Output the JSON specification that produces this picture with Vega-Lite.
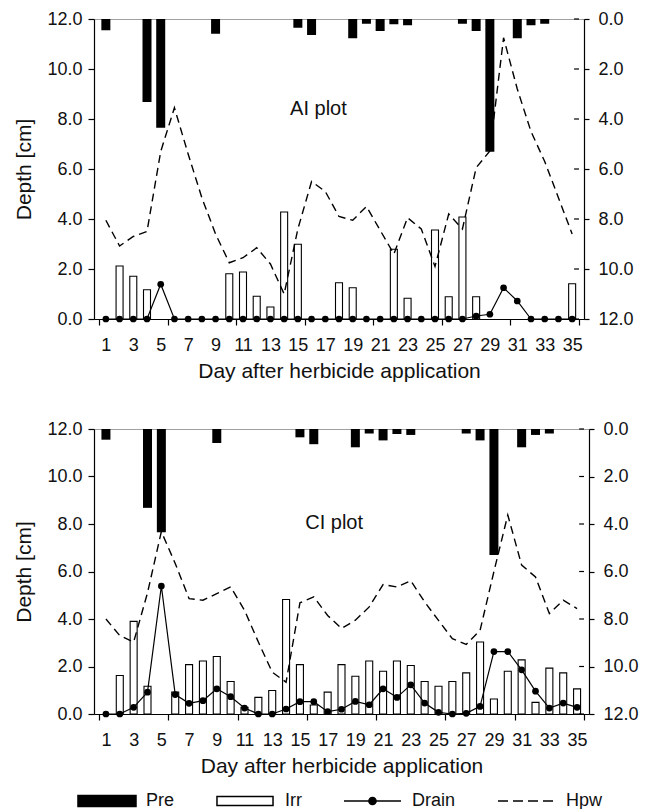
{
  "$schema": "https://vega.github.io/schema/vega-lite/v6.json",
  "padding": {"left": 13, "top": 9, "right": 5, "bottom": 0},
  "background": "white",
  "config": {
    "font": "Liberation Sans",
    "view": {"stroke": "#a0a0a0", "strokeWidth": 1},
    "axis": {"labelFont": "Liberation Sans", "titleFont": "Liberation Sans", "labelColor": "#111", "titleColor": "#111", "domainColor": "#000", "tickColor": "#000", "labelFontSize": 18, "titleFontSize": 21, "titleFontWeight": "normal", "grid": false, "domainWidth": 1.2, "tickWidth": 1.2, "labelOverlap": false},
    "axisX": {"labelOverlap": false, "labelFlush": false},
    "concat": {"spacing": 37}
  },
  "datasets": {
    "ai": [
      {"day": 1, "pre": 0.45, "irr": null, "drain": 0, "hpw": 3.95},
      {"day": 2, "pre": null, "irr": 2.12, "drain": 0, "hpw": 2.92},
      {"day": 3, "pre": null, "irr": 1.71, "drain": 0, "hpw": 3.3},
      {"day": 4, "pre": 3.32, "irr": 1.17, "drain": 0, "hpw": 3.5},
      {"day": 5, "pre": 4.35, "irr": null, "drain": 1.39, "hpw": 6.7},
      {"day": 6, "pre": null, "irr": null, "drain": 0, "hpw": 8.45},
      {"day": 7, "pre": null, "irr": null, "drain": 0, "hpw": 6.6},
      {"day": 8, "pre": null, "irr": null, "drain": 0, "hpw": 4.85},
      {"day": 9, "pre": 0.59, "irr": null, "drain": 0, "hpw": 3.4},
      {"day": 10, "pre": null, "irr": 1.81, "drain": 0, "hpw": 2.25},
      {"day": 11, "pre": null, "irr": 1.88, "drain": 0, "hpw": 2.45},
      {"day": 12, "pre": null, "irr": 0.91, "drain": 0, "hpw": 2.85},
      {"day": 13, "pre": null, "irr": 0.48, "drain": 0, "hpw": 2.2},
      {"day": 14, "pre": null, "irr": 4.28, "drain": 0, "hpw": 1.0},
      {"day": 15, "pre": 0.35, "irr": 2.99, "drain": 0, "hpw": 3.6},
      {"day": 16, "pre": 0.64, "irr": null, "drain": 0, "hpw": 5.5},
      {"day": 17, "pre": null, "irr": null, "drain": 0, "hpw": 5.1},
      {"day": 18, "pre": null, "irr": 1.45, "drain": 0, "hpw": 4.1},
      {"day": 19, "pre": 0.77, "irr": 1.25, "drain": 0, "hpw": 3.95},
      {"day": 20, "pre": 0.19, "irr": null, "drain": 0, "hpw": 4.5},
      {"day": 21, "pre": 0.48, "irr": null, "drain": 0, "hpw": 3.55},
      {"day": 22, "pre": 0.21, "irr": 2.79, "drain": 0, "hpw": 2.6},
      {"day": 23, "pre": 0.25, "irr": 0.83, "drain": 0, "hpw": 4.05},
      {"day": 24, "pre": null, "irr": null, "drain": 0, "hpw": 3.6},
      {"day": 25, "pre": null, "irr": 3.56, "drain": 0, "hpw": 2.1},
      {"day": 26, "pre": null, "irr": 0.89, "drain": 0, "hpw": 4.2},
      {"day": 27, "pre": 0.19, "irr": 4.08, "drain": 0, "hpw": 3.6},
      {"day": 28, "pre": 0.48, "irr": 0.89, "drain": 0.12, "hpw": 6.05},
      {"day": 29, "pre": 5.31, "irr": null, "drain": 0.19, "hpw": 6.72},
      {"day": 30, "pre": null, "irr": null, "drain": 1.25, "hpw": 11.25},
      {"day": 31, "pre": 0.77, "irr": null, "drain": 0.72, "hpw": 9.2},
      {"day": 32, "pre": 0.25, "irr": null, "drain": 0, "hpw": 7.5},
      {"day": 33, "pre": 0.19, "irr": null, "drain": 0, "hpw": 6.3},
      {"day": 34, "pre": null, "irr": null, "drain": 0, "hpw": 4.85},
      {"day": 35, "pre": null, "irr": 1.41, "drain": 0, "hpw": 3.4}
    ],
    "ci": [
      {"day": 1, "pre": 0.45, "irr": null, "drain": 0, "hpw": 4.0},
      {"day": 2, "pre": null, "irr": 1.62, "drain": 0, "hpw": 3.3},
      {"day": 3, "pre": null, "irr": 3.9, "drain": 0.28, "hpw": 3.03},
      {"day": 4, "pre": 3.32, "irr": 1.17, "drain": 0.92, "hpw": 5.1},
      {"day": 5, "pre": 4.35, "irr": null, "drain": 5.39, "hpw": 7.68},
      {"day": 6, "pre": null, "irr": 0.92, "drain": 0.82, "hpw": 6.34},
      {"day": 7, "pre": null, "irr": 2.08, "drain": 0.45, "hpw": 4.86},
      {"day": 8, "pre": null, "irr": 2.23, "drain": 0.56, "hpw": 4.79},
      {"day": 9, "pre": 0.59, "irr": 2.42, "drain": 1.06, "hpw": 5.07},
      {"day": 10, "pre": null, "irr": 1.37, "drain": 0.73, "hpw": 5.35},
      {"day": 11, "pre": null, "irr": 0.28, "drain": 0.25, "hpw": 4.37},
      {"day": 12, "pre": null, "irr": 0.7, "drain": 0, "hpw": 3.03},
      {"day": 13, "pre": null, "irr": 0.99, "drain": 0, "hpw": 1.76},
      {"day": 14, "pre": null, "irr": 4.82, "drain": 0.21, "hpw": 1.34},
      {"day": 15, "pre": 0.35, "irr": 2.08, "drain": 0.52, "hpw": 4.68},
      {"day": 16, "pre": 0.64, "irr": 0.38, "drain": 0.52, "hpw": 4.93},
      {"day": 17, "pre": null, "irr": 0.92, "drain": 0.1, "hpw": 4.15},
      {"day": 18, "pre": null, "irr": 2.08, "drain": 0.2, "hpw": 3.6},
      {"day": 19, "pre": 0.77, "irr": 1.59, "drain": 0.53, "hpw": 3.95},
      {"day": 20, "pre": 0.19, "irr": 2.23, "drain": 0.39, "hpw": 4.51},
      {"day": 21, "pre": 0.48, "irr": 1.8, "drain": 1.06, "hpw": 5.45},
      {"day": 22, "pre": 0.21, "irr": 2.23, "drain": 0.7, "hpw": 5.35},
      {"day": 23, "pre": 0.25, "irr": 2.04, "drain": 1.23, "hpw": 5.61},
      {"day": 24, "pre": null, "irr": 1.37, "drain": 0.46, "hpw": 4.72},
      {"day": 25, "pre": null, "irr": 1.17, "drain": 0.07, "hpw": 3.94},
      {"day": 26, "pre": null, "irr": 1.37, "drain": 0, "hpw": 3.17},
      {"day": 27, "pre": 0.19, "irr": 1.73, "drain": 0.03, "hpw": 2.93},
      {"day": 28, "pre": 0.48, "irr": 3.03, "drain": 0.32, "hpw": 3.52},
      {"day": 29, "pre": 5.31, "irr": 0.63, "drain": 2.63, "hpw": 6.0},
      {"day": 30, "pre": null, "irr": 1.8, "drain": 2.63, "hpw": 8.38},
      {"day": 31, "pre": 0.77, "irr": 2.28, "drain": 1.86, "hpw": 6.27},
      {"day": 32, "pre": 0.25, "irr": 0.49, "drain": 0.96, "hpw": 5.77},
      {"day": 33, "pre": 0.19, "irr": 1.93, "drain": 0.25, "hpw": 4.23},
      {"day": 34, "pre": null, "irr": 1.73, "drain": 0.46, "hpw": 4.79},
      {"day": 35, "pre": null, "irr": 1.06, "drain": 0.28, "hpw": 4.44}
    ],
    "yticks": [
      {"v": 0}, {"v": 2}, {"v": 4}, {"v": 6}, {"v": 8}, {"v": 10}, {"v": 12}
    ],
    "series": [
      {"series": "Pre"}, {"series": "Irr"}, {"series": "Drain"}, {"series": "Hpw"}
    ]
  },
  "resolve": {"scale": {"x": "independent", "y": "independent"}},
  "vconcat": [
    {
      "width": 490,
      "height": 300,
      "data": {"name": "ai"},
      "resolve": {"scale": {"y": "independent"}, "axis": {"y": "independent"}},
      "layer": [
        {
          "mark": {"type": "bar", "size": 7, "fill": "white", "stroke": "black", "strokeWidth": 1.1},
          "encoding": {
            "x": {"field": "day", "type": "quantitative", "scale": {"domain": [0.5, 35.5], "nice": false, "zero": false},
              "axis": {"title": "Day after herbicide application", "tickCount": 60, "values": [0.5, 1, 3, 5, 5.5, 7, 9, 10.5, 11, 13, 15, 15.5, 17, 19, 20.5, 21, 23, 25, 25.5, 27, 29, 30.5, 31, 33, 35, 35.5],
                "format": "d", "labelExpr": "datum.value % 1 == 0 ? datum.label : ''", "tickOpacity": {"condition": {"test": "datum.value % 1 != 0", "value": 1}, "value": 0},
                "tickSize": 6, "labelPadding": 11, "titlePadding": 6, "labelOverlap": false, "labelFlush": false}},
            "y": {"field": "irr", "type": "quantitative", "scale": {"domain": [0, 12], "nice": false, "zero": false},
              "axis": {"orient": "left", "title": "Depth [cm]", "values": [0, 2, 4, 6, 8, 10, 12], "format": ".1f", "tickSize": 6, "labelPadding": 6, "titlePadding": 12}},
            "y2": {"datum": 0}
          }
        },
        {
          "data": {"name": "yticks"},
          "mark": {"type": "rule", "color": "black", "strokeWidth": 1.2},
          "encoding": {
            "x": {"datum": 35.14, "type": "quantitative"},
            "x2": {"datum": 35.5},
            "y": {"field": "v", "type": "quantitative", "scale": {"domain": [0, 12], "nice": false, "zero": false}, "axis": null}
          }
        },
        {
          "mark": {"type": "line", "stroke": "black", "strokeWidth": 1.4, "strokeDash": [8, 5]},
          "encoding": {
            "x": {"field": "day", "type": "quantitative"},
            "y": {"field": "hpw", "type": "quantitative", "scale": {"domain": [0, 12], "nice": false, "zero": false}, "axis": null}
          }
        },
        {
          "mark": {"type": "line", "stroke": "black", "strokeWidth": 1.2},
          "encoding": {
            "x": {"field": "day", "type": "quantitative"},
            "y": {"field": "drain", "type": "quantitative", "scale": {"domain": [0, 12], "nice": false, "zero": false}, "axis": null}
          }
        },
        {
          "mark": {"type": "point", "filled": true, "color": "black", "size": 45, "opacity": 1},
          "encoding": {
            "x": {"field": "day", "type": "quantitative"},
            "y": {"field": "drain", "type": "quantitative", "scale": {"domain": [0, 12], "nice": false, "zero": false}, "axis": null}
          }
        },
        {
          "data": {"values": [{"label": "AI plot"}]},
          "mark": {"type": "text", "fontSize": 20, "font": "Liberation Sans", "color": "#111"},
          "encoding": {
            "x": {"datum": 16.5, "type": "quantitative"},
            "y": {"datum": 8.4, "type": "quantitative", "scale": {"domain": [0, 12], "nice": false, "zero": false}, "axis": null},
            "text": {"field": "label"}
          }
        },
        {
          "mark": {"type": "bar", "size": 9, "fill": "black"},
          "encoding": {
            "x": {"field": "day", "type": "quantitative"},
            "y": {"field": "pre", "type": "quantitative", "scale": {"domain": [0, 12], "reverse": true, "nice": false, "zero": false},
              "axis": {"orient": "right", "title": null, "values": [0, 2, 4, 6, 8, 10, 12], "format": ".1f", "tickSize": 5, "labelPadding": 9}},
            "y2": {"datum": 0}
          }
        }
      ]
    },
    {
      "width": 495,
      "height": 285,
      "data": {"name": "ci"},
      "resolve": {"scale": {"y": "independent"}, "axis": {"y": "independent"}},
      "layer": [
        {
          "mark": {"type": "bar", "size": 7, "fill": "white", "stroke": "black", "strokeWidth": 1.1},
          "encoding": {
            "x": {"field": "day", "type": "quantitative", "scale": {"domain": [0.5, 35.5], "nice": false, "zero": false},
              "axis": {"title": "Day after herbicide application", "tickCount": 60, "values": [0.5, 1, 3, 5, 5.5, 7, 9, 10.5, 11, 13, 15, 15.5, 17, 19, 20.5, 21, 23, 25, 25.5, 27, 29, 30.5, 31, 33, 35, 35.5],
                "format": "d", "labelExpr": "datum.value % 1 == 0 ? datum.label : ''", "tickOpacity": {"condition": {"test": "datum.value % 1 != 0", "value": 1}, "value": 0},
                "tickSize": 6, "labelPadding": 11, "titlePadding": 6, "labelOverlap": false, "labelFlush": false}},
            "y": {"field": "irr", "type": "quantitative", "scale": {"domain": [0, 12], "nice": false, "zero": false},
              "axis": {"orient": "left", "title": "Depth [cm]", "values": [0, 2, 4, 6, 8, 10, 12], "format": ".1f", "tickSize": 6, "labelPadding": 6, "titlePadding": 12}},
            "y2": {"datum": 0}
          }
        },
        {
          "data": {"name": "yticks"},
          "mark": {"type": "rule", "color": "black", "strokeWidth": 1.2},
          "encoding": {
            "x": {"datum": 35.15, "type": "quantitative"},
            "x2": {"datum": 35.5},
            "y": {"field": "v", "type": "quantitative", "scale": {"domain": [0, 12], "nice": false, "zero": false}, "axis": null}
          }
        },
        {
          "mark": {"type": "line", "stroke": "black", "strokeWidth": 1.4, "strokeDash": [8, 5]},
          "encoding": {
            "x": {"field": "day", "type": "quantitative"},
            "y": {"field": "hpw", "type": "quantitative", "scale": {"domain": [0, 12], "nice": false, "zero": false}, "axis": null}
          }
        },
        {
          "mark": {"type": "line", "stroke": "black", "strokeWidth": 1.2},
          "encoding": {
            "x": {"field": "day", "type": "quantitative"},
            "y": {"field": "drain", "type": "quantitative", "scale": {"domain": [0, 12], "nice": false, "zero": false}, "axis": null}
          }
        },
        {
          "mark": {"type": "point", "filled": true, "color": "black", "size": 45, "opacity": 1},
          "encoding": {
            "x": {"field": "day", "type": "quantitative"},
            "y": {"field": "drain", "type": "quantitative", "scale": {"domain": [0, 12], "nice": false, "zero": false}, "axis": null}
          }
        },
        {
          "data": {"values": [{"label": "CI plot"}]},
          "mark": {"type": "text", "fontSize": 20, "font": "Liberation Sans", "color": "#111"},
          "encoding": {
            "x": {"datum": 17.47, "type": "quantitative"},
            "y": {"datum": 8.04, "type": "quantitative", "scale": {"domain": [0, 12], "nice": false, "zero": false}, "axis": null},
            "text": {"field": "label"}
          }
        },
        {
          "mark": {"type": "bar", "size": 9, "fill": "black"},
          "encoding": {
            "x": {"field": "day", "type": "quantitative"},
            "y": {"field": "pre", "type": "quantitative", "scale": {"domain": [0, 12], "reverse": true, "nice": false, "zero": false},
              "axis": {"orient": "right", "title": null, "values": [0, 2, 4, 6, 8, 10, 12], "format": ".1f", "tickSize": 5, "labelPadding": 9}},
            "y2": {"datum": 0}
          }
        },
        {
          "data": {"name": "series"},
          "transform": [{"filter": "false"}],
          "mark": {"type": "point", "filled": true, "opacity": 1, "stroke": "black", "strokeWidth": 1.2},
          "encoding": {
            "fill": {"field": "series", "type": "nominal",
              "scale": {"domain": ["Pre", "Irr", "Drain", "Hpw"], "range": ["black", "white", "black", "transparent"]},
              "legend": {"orient": "bottom", "direction": "horizontal", "title": null, "symbolSize": 144, "labelOffset": 34, "columnPadding": 38, "labelFontSize": 18, "labelFont": "Liberation Sans", "labelColor": "#111", "padding": 0, "offset": 15,
                "encode": {"symbols": {"update": {"stroke": {"value": "black"}, "strokeWidth": {"value": 1.2}, "opacity": {"value": 1}}}}}},
            "shape": {"field": "series", "type": "nominal",
              "scale": {"domain": ["Pre", "Irr", "Drain", "Hpw"], "range": ["M-4.17,-0.92H5.5V0.92H-4.17Z", "M-4.17,-0.75H5.17V0.75H-4.17Z", "M-4.17,0H5.33M-0.02,0a0.6,0.6 0 1,0 1.2,0a0.6,0.6 0 1,0 -1.2,0", "M-4.17,0H-2.5M-1.67,0H0M0.83,0H2.5M3.33,0H5"]},
              "legend": {"orient": "bottom", "direction": "horizontal", "title": null, "symbolSize": 144, "labelOffset": 34, "columnPadding": 38, "labelFontSize": 18, "labelFont": "Liberation Sans", "labelColor": "#111", "padding": 0, "offset": 15,
                "encode": {"symbols": {"update": {"stroke": {"value": "black"}, "strokeWidth": {"value": 1.2}, "opacity": {"value": 1}}}}}}
          }
        }
      ]
    }
  ]
}
